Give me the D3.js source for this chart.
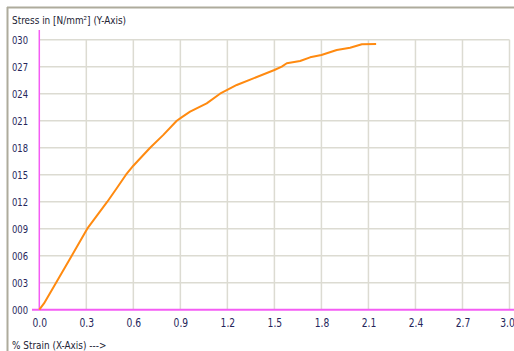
<!DOCTYPE html>
<html>
<head>
<meta charset="utf-8">
<script src="https://cdn.jsdelivr.net/npm/d3@7"></script>
<style>
  html, body { margin: 0; padding: 0; background: #ffffff; }
  svg { display: block; }
  .lbl { font-family: "Liberation Sans Narrow", "DejaVu Sans Condensed", "Liberation Sans", sans-serif; }
</style>
</head>
<body>
<svg id="chart" width="514" height="351"></svg>
<script>
// Stress-strain test data
const strain = [0, 0.03, 0.107, 0.207, 0.306, 0.37, 0.434, 0.494, 0.553, 0.6, 0.643, 0.707, 0.79, 0.877, 0.91,
  0.962, 1.068, 1.153, 1.26, 1.366, 1.5, 1.547, 1.579, 1.664, 1.728, 1.8, 1.898, 1.983, 2.058, 2.149];
const stress = [0, 0.7, 3.0, 6.0, 9.0, 10.5, 12.0, 13.5, 15.0, 16.0, 16.8, 18.0, 19.4, 21.0, 21.4,
  22.0, 22.93, 24.0, 24.97, 25.71, 26.63, 27.0, 27.38, 27.63, 28.04, 28.3, 28.86, 29.11, 29.49, 29.52];
const xTicks = [0, 0.3, 0.6, 0.9, 1.2, 1.5, 1.8, 2.1, 2.4, 2.7, 3.0];
const yTicks = [0, 3, 6, 9, 12, 15, 18, 21, 24, 27, 30];
const yTitle = "Stress in [N/mm\u00B2] (Y-Axis)";
const xTitle = "% Strain (X-Axis) --->";

const svg = d3.select("#chart");
const W = 514, H = 351;

const x = d3.scaleLinear().domain([0, 3]).range([39.3, 509.5]);
const y = d3.scaleLinear().domain([0, 30]).range([309.7, 39.7]);

// outer frame (top and left edges)
svg.append("line").attr("x1", 7).attr("x2", W).attr("y1", 7.5).attr("y2", 7.5)
  .attr("stroke", "#aeab9c").attr("stroke-width", 2);
svg.append("line").attr("x1", 7.5).attr("x2", 7.5).attr("y1", 7).attr("y2", H)
  .attr("stroke", "#aeab9c").attr("stroke-width", 2);

// grid
const grid = svg.append("g");
grid.selectAll("line.v").data(xTicks.slice(1)).join("line")
  .attr("x1", d => x(d)).attr("x2", d => x(d))
  .attr("y1", y(30)).attr("y2", y(0))
  .attr("stroke", "#dcdbd2").attr("stroke-width", 1.5);
grid.selectAll("line.h").data(yTicks.slice(1)).join("line")
  .attr("x1", x(0)).attr("x2", x(3))
  .attr("y1", d => y(d)).attr("y2", d => y(d))
  .attr("stroke", "#dcdbd2").attr("stroke-width", 1.5);

// axes (labels only, narrowed horizontally)
const xAxis = d3.axisBottom(x).tickValues(xTicks).tickFormat(d3.format(".1f")).tickSize(0).tickPadding(9);
const gx = svg.append("g").attr("transform", `translate(0,${y(0)})`).call(xAxis);
gx.select(".domain").remove();
gx.selectAll("text").attr("class", "lbl").attr("font-size", 12).attr("fill", "#25255a")
  .attr("transform", "scale(0.85,1)");
// keep the last label inside the right edge
gx.selectAll("text").filter(d => d === 3.0).attr("x", -2.5 / 0.85);

const yAxis = d3.axisLeft(y).tickValues(yTicks).tickFormat(d3.format("03d")).tickSize(0);
const gy = svg.append("g").attr("transform", "translate(12,0)").call(yAxis);
gy.select(".domain").remove();
gy.selectAll("text").attr("class", "lbl").attr("font-size", 11).attr("fill", "#25255a")
  .attr("text-anchor", "start").attr("x", 0).attr("transform", "scale(0.85,1)");

// magenta axis lines
svg.append("line").attr("x1", x(0)).attr("x2", x(0)).attr("y1", 30).attr("y2", y(0))
  .attr("stroke", "#f45cf4").attr("stroke-width", 1.5);
svg.append("line").attr("x1", 32).attr("x2", W).attr("y1", y(0)).attr("y2", y(0))
  .attr("stroke", "#f45cf4").attr("stroke-width", 2);

// curve
const line = d3.line().x((d, i) => x(strain[i])).y(d => y(d));
svg.append("path").datum(stress).attr("d", line)
  .attr("fill", "none").attr("stroke", "#ff8a10").attr("stroke-width", 2).attr("stroke-linejoin", "round");

// titles
svg.append("g").attr("transform", "translate(12,24) scale(0.9,1)")
  .append("text").attr("class", "lbl").attr("font-size", 11).attr("fill", "#222233").text(yTitle);
svg.append("g").attr("transform", "translate(12,349) scale(0.9,1)")
  .append("text").attr("class", "lbl").attr("font-size", 11).attr("fill", "#222233").text(xTitle);
</script>
</body>
</html>
